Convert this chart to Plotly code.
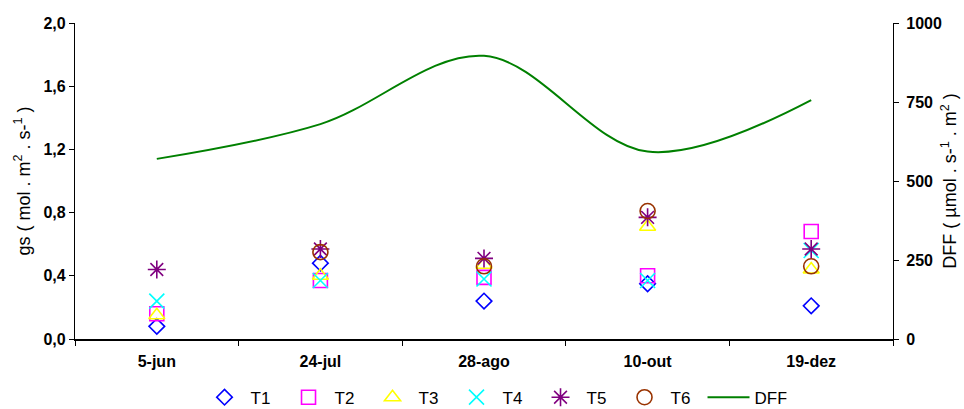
import plotly.graph_objects as go

# Sampling dates (categories)
dates = ["5-jun", "24-jul", "28-ago", "10-out", "19-dez"]

# Stomatal conductance gs (mol m-2 s-1) per treatment
t1 = [0.08, 0.48, 0.24, 0.35, 0.21]
t2 = [0.16, 0.37, 0.39, 0.40, 0.68]
t3 = [0.15, 0.40, 0.47, 0.71, 0.44]
t4 = [0.24, 0.37, 0.38, 0.37, 0.56]
t5 = [0.44, 0.57, 0.51, 0.77, 0.57]
t6 = [None, 0.55, 0.46, 0.81, 0.46]

# Photon flux density DFF (umol s-1 m-2)
dff = [570, 680, 896, 593, 756]

series = [
    ("T1", t1, "diamond-open", "#0000FF", 12),
    ("T2", t2, "square-open", "#FF00FF", 14),
    ("T3", t3, "triangle-up-open", "#FFFF00", 14),
    ("T4", t4, "x-thin-open", "#00FFFF", 15),
    ("T5", t5, "asterisk-open", "#800080", 15),
    ("T6", t6, "circle-open", "#993300", 15),
]

fig = go.Figure()
for name, vals, sym, col, size in series:
    fig.add_trace(go.Scatter(
        x=dates, y=vals, name=name, mode="markers",
        marker=dict(symbol=sym, size=size, color=col,
                    line=dict(color=col, width=1.6)),
        cliponaxis=False,
    ))

fig.add_trace(go.Scatter(
    x=dates, y=dff, name="DFF", mode="lines", yaxis="y2",
    line=dict(color="#008000", width=2, shape="spline", smoothing=1.0),
))

font_family = "Liberation Sans, Arial, sans-serif"

# plot box spans 23..359 px; the y domain lifts the x axis to 339 px
fig.update_layout(
    width=964, height=409,
    margin=dict(l=75, r=71, t=23, b=50, autoexpand=False),
    paper_bgcolor="white", plot_bgcolor="white",
    separators=",.",
    font=dict(family=font_family, color="black"),
    showlegend=True,
    legend=dict(
        orientation="h", x=0.151, xanchor="left", y=-0.115, yanchor="middle",
        font=dict(size=17), itemwidth=42, entrywidth=27, entrywidthmode="pixels",
        bgcolor="rgba(0,0,0,0)", tracegroupgap=0,
    ),
    xaxis=dict(
        type="category", range=[-0.5, 4.5],
        showline=True, linecolor="black", linewidth=1.5,
        ticks="outside", tickson="boundaries", ticklen=5, tickcolor="black",
        tickfont=dict(size=16, weight="bold"), ticklabelstandoff=7,
        showgrid=False, zeroline=False,
    ),
    yaxis=dict(
        domain=[20 / 336, 1],
        range=[0, 2.0], dtick=0.4, tick0=0, tickformat=".1f",
        showline=True, linecolor="black", linewidth=1.2,
        ticks="outside", ticklen=5, tickcolor="black",
        tickfont=dict(size=16, weight="bold"),
        showgrid=False, zeroline=False,
        title=dict(text="gs ( mol . m<sup>2</sup> . s-<sup>1</sup> )",
                   font=dict(size=18), standoff=8),
    ),
    yaxis2=dict(
        overlaying="y", side="right",
        range=[0, 1000], dtick=250, tick0=0,
        showline=True, linecolor="black", linewidth=1.2,
        ticks="outside", ticklen=5, tickcolor="black",
        tickfont=dict(size=16, weight="bold"), ticklabelstandoff=4,
        showgrid=False, zeroline=False,
        title=dict(text="DFF ( µmol . s-<sup>1</sup> . m<sup>2</sup> )",
                   font=dict(size=18), standoff=2),
    ),
)

fig.write_html("out.html")
